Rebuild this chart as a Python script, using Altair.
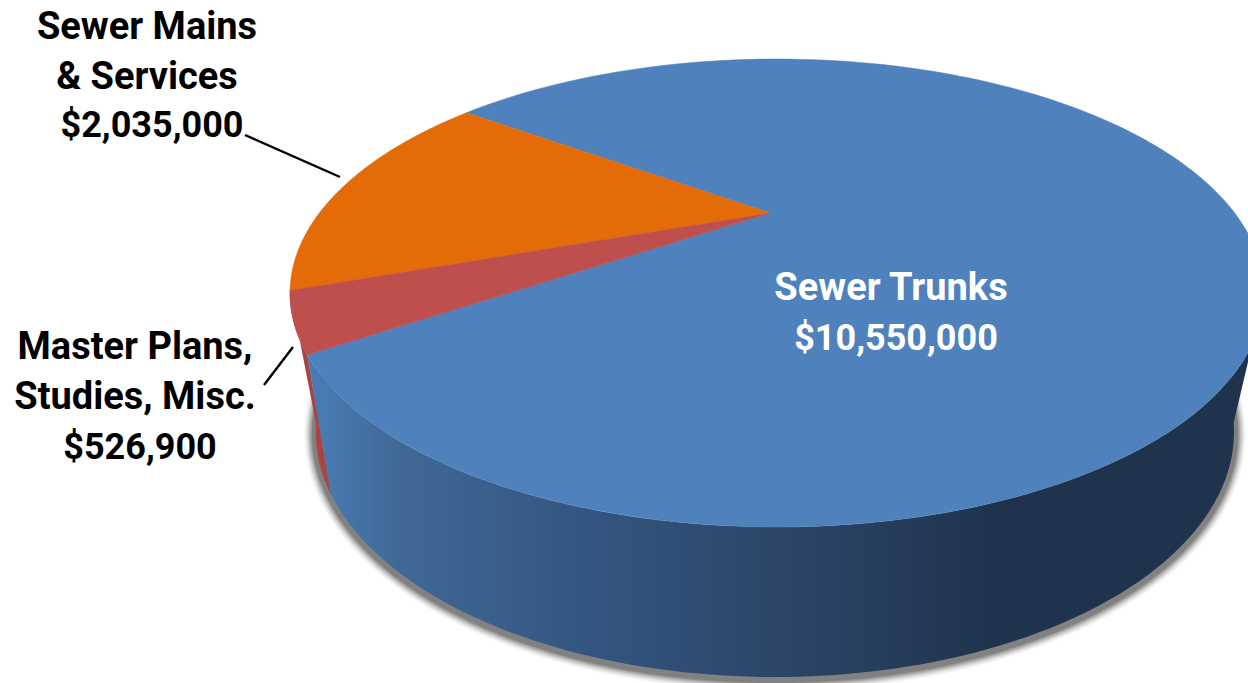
import numpy as np
import pandas as pd
import altair as alt

# Capital programme split
categories = ["Sewer Trunks", "Sewer Mains & Services", "Master Plans, Studies, Misc."]
amounts = [10550000, 2035000, 526900]
slice_colors = ["#4F81BD", "#E36C09", "#BE4F4C"]

label_lines = [
    ["Sewer Mains", "& Services"],
    ["Master Plans,", "Studies, Misc."],
    ["Sewer Trunks"],
]
label_amounts = [amounts[1], amounts[2], amounts[0]]

W, H = 1248, 683
FONT = "Roboto"
START_ANGLE = 216.2  # where the orange slice begins, degrees

# Perspective of the pie's top and bottom discs
TOP = dict(ax=770, ay=213, cx=777, cy=293, rx=487, ry=234, a=458, b=206.8, k=-0.342)
BOTTOM = dict(ax=783, ay=341, cx=775, cy=432, rx=459, ry=245, a=423, b=211, k=-0.37)


def rim(disc, angles_deg):
    """Project pie angles onto a disc's rim: perspective ray from its centre to its ellipse."""
    th = np.radians(np.asarray(angles_deg, dtype=float))
    u, v = np.cos(th), np.sin(th)
    den = 1 + disc["k"] * v
    dx, dy = disc["a"] * u / den, disc["b"] * v / den
    ox = (disc["ax"] - disc["cx"]) / disc["rx"]
    oy = (disc["ay"] - disc["cy"]) / disc["ry"]
    px, py = dx / disc["rx"], dy / disc["ry"]
    qa = px**2 + py**2
    qb = 2 * (ox * px + oy * py)
    qc = ox**2 + oy**2 - 1
    s = (-qb + np.sqrt(qb**2 - 4 * qa * qc)) / (2 * qa)
    return disc["ax"] + s * dx, disc["ay"] + s * dy


def arc_angles(a0, a1, n=120):
    return np.linspace(a0, a1, n)


def polygon(xs, ys):
    return pd.DataFrame({"x": xs, "y": ys, "i": np.arange(len(xs))})


sx = alt.Scale(domain=[0, W], range=[0, W])
sy = alt.Scale(domain=[0, H], range=[0, H])


def shape_layer(df, **mark):
    return alt.Chart(df).mark_line(clip=True, interpolate="linear", **mark).encode(
        x=alt.X("x:Q", scale=sx, axis=None),
        y=alt.Y("y:Q", scale=sy, axis=None),
        order="i:Q",
    )


total = sum(amounts)
sweep = [360 * v / total for v in amounts]
orange_end = START_ANGLE - sweep[1]
red_end = orange_end - sweep[2]
blue_end = red_end - sweep[0]

layers = []

# Soft shadow hugging the lower rim
sh_x, sh_y = rim(BOTTOM, arc_angles(172, 6))
shadow = polygon(sh_x, sh_y + 2)
for width, alpha in [(24, 0.03), (22, 0.04), (20, 0.05), (18, 0.07), (16, 0.09),
                     (14, 0.11), (12, 0.13), (10, 0.16), (8, 0.2)]:
    layers.append(shape_layer(shadow, stroke="#333333", strokeWidth=width, opacity=alpha, strokeCap="round"))

# Side wall of the red slice
wall_top = rim(TOP, arc_angles(orange_end, red_end, 30))
wall_bot = rim(BOTTOM, arc_angles(red_end, orange_end, 30))
layers.append(shape_layer(
    polygon(np.r_[wall_top[0], wall_bot[0]], np.r_[wall_top[1], wall_bot[1]]),
    fill="#A84543", stroke="#A84543", strokeWidth=0.5,
))

# Side wall of the blue slice
wall_top = rim(TOP, arc_angles(red_end, 20))
wall_bot = rim(BOTTOM, arc_angles(20, red_end))
wall_fill = alt.Gradient(
    gradient="linear", x1=0, x2=1, y1=0, y2=0,
    stops=[
        alt.GradientStop(offset=0.0, color="#4A7DB5"),
        alt.GradientStop(offset=0.1, color="#3F6896"),
        alt.GradientStop(offset=0.3, color="#33557F"),
        alt.GradientStop(offset=0.5, color="#2C4568"),
        alt.GradientStop(offset=0.72, color="#1F334D"),
        alt.GradientStop(offset=1.0, color="#1F334D"),
    ],
)
layers.append(shape_layer(
    polygon(np.r_[wall_top[0], wall_bot[0]], np.r_[wall_top[1], wall_bot[1]]),
    fill=wall_fill, strokeWidth=0,
))

# Top face: each slice closed through the perspective centre
for color, a0, a1 in [
    (slice_colors[0], red_end, blue_end),
    (slice_colors[1], START_ANGLE, orange_end),
    (slice_colors[2], orange_end, red_end),
]:
    rx_, ry_ = rim(TOP, arc_angles(a0, a1, 200))
    layers.append(shape_layer(
        polygon(np.r_[TOP["ax"], rx_, TOP["ax"]], np.r_[TOP["ay"], ry_, TOP["ay"]]),
        fill=color, stroke=color, strokeWidth=0.5,
    ))

# Leader lines from the outside labels to their slices
leaders = pd.DataFrame({
    "x": [245, 264], "y": [135, 385],
    "x2": [340, 293], "y2": [177, 347],
})
layers.append(alt.Chart(leaders).mark_rule(color="black", strokeWidth=2.4).encode(
    x=alt.X("x:Q", scale=sx, axis=None),
    y=alt.Y("y:Q", scale=sy, axis=None),
    x2="x2:Q", y2="y2:Q",
))

# Labels, one row per drawn line of text; the dollar amounts are set a little smaller
rows = []
placements = [
    ((147, 39), (147, 89), (152, 137), "black"),
    ((135, 359), (135, 409), (140, 459), "black"),
    ((891, 300), None, (896, 350), "white"),
]
for lines, amount, place in zip(label_lines, label_amounts, placements):
    color = place[3]
    texts = lines + [f"${amount:,}"]
    spots = [p for p in place[:3] if p is not None]
    for text, (px, py) in zip(texts, spots):
        rows.append({"x": px, "y": py, "t": text, "c": color, "s": 36 if text.startswith("$") else 38})
labels = pd.DataFrame(rows)
layers.append(alt.Chart(labels).mark_text(
    font=FONT, fontWeight="bold", align="center", baseline="alphabetic",
).encode(
    x=alt.X("x:Q", scale=sx, axis=None),
    y=alt.Y("y:Q", scale=sy, axis=None),
    text="t:N",
    color=alt.Color("c:N", scale=None),
    size=alt.Size("s:Q", scale=None),
))

chart = alt.layer(*layers).properties(
    width=W, height=H, padding=0, autosize=alt.AutoSizeParams(type="none"), background="white",
).configure_view(strokeWidth=0)

chart.save("out.html", embed_options={"renderer": "svg", "actions": False})
